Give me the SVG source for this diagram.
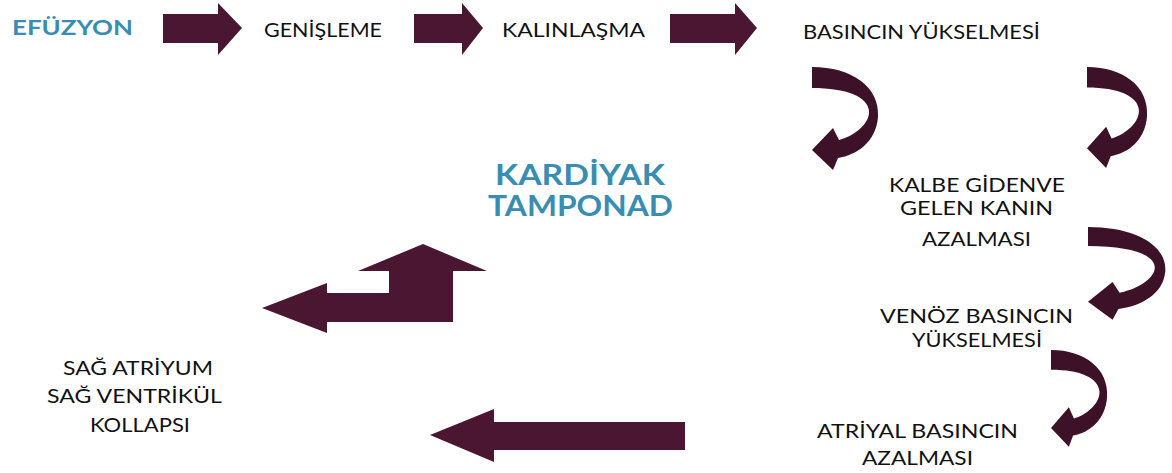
<svg xmlns="http://www.w3.org/2000/svg" width="1172" height="473" viewBox="0 0 1172 473">
<style>
.arr{fill:#4b1632}
.carr{fill:#3d1128}
.t{font-family:Lato,"Liberation Sans",sans-serif;font-size:20px;fill:#111;text-anchor:middle}
.b{font-family:Lato,"Liberation Sans",sans-serif;font-weight:bold;fill:#3a8db2;text-anchor:middle}
</style>
<defs>
<path id="curved" d="M0,0 C40,0 68,20 66,50 C64,75 45,88 26,91 L21,103 L0,83 L21,61 L27,73 C45,68 58,55 57,44 C56,30 35,21 0,21 Z"/>
</defs>
<rect width="1172" height="473" fill="#fff"/>
<g id="connectors">
<path class="arr" d="M163,14 L218,14 L218,3 L242,28 L218,55 L218,43 L163,43 Z"/>
<path class="arr" d="M414,14 L462,14 L462,3 L483,28 L462,55 L462,43 L414,43 Z"/>
<path class="arr" d="M670,14 L735,14 L735,3 L757,28 L735,55 L735,43 L670,43 Z"/>
<use href="#curved" class="carr" transform="translate(812,67)"/>
<use href="#curved" class="carr" transform="translate(1087,67) scale(0.91,0.98)"/>
<use href="#curved" class="carr" transform="translate(1088,227) scale(1.17,0.9)"/>
<use href="#curved" class="carr" transform="translate(1051,350) scale(0.85,0.94)"/>
<path class="arr" d="M262,308 L327,283 L327,293 L389,293 L389,271 L358,271 L423,244 L487,271 L453,271 L453,322 L327,322 L327,333 Z"/>
<path class="arr" d="M430,435 L494,409 L494,422 L685,422 L685,450 L494,450 L494,462 Z"/>
</g>
<g id="efuzyon"><text class="b" x="72.5" y="35" font-size="20" textLength="121" lengthAdjust="spacingAndGlyphs">EFÜZYON</text></g>
<g id="genisleme"><text class="t" x="323" y="37" textLength="118" lengthAdjust="spacingAndGlyphs">GENİŞLEME</text></g>
<g id="kalinlasma"><text class="t" x="573.5" y="37" textLength="143" lengthAdjust="spacingAndGlyphs">KALINLAŞMA</text></g>
<g id="basinc"><text class="t" x="921.5" y="39" textLength="237" lengthAdjust="spacingAndGlyphs">BASINCIN YÜKSELMESİ</text></g>
<g id="kalbe">
<text class="t" x="977" y="192" font-size="21" textLength="176" lengthAdjust="spacingAndGlyphs">KALBE GİDENVE</text>
<text class="t" x="976.5" y="215" font-size="21" textLength="153" lengthAdjust="spacingAndGlyphs">GELEN KANIN</text>
<text class="t" x="976.5" y="246" font-size="21" textLength="109" lengthAdjust="spacingAndGlyphs">AZALMASI</text>
</g>
<g id="venoz">
<text class="t" x="976.5" y="323" font-size="21" textLength="193" lengthAdjust="spacingAndGlyphs">VENÖZ BASINCIN</text>
<text class="t" x="977" y="347" font-size="21" textLength="130" lengthAdjust="spacingAndGlyphs">YÜKSELMESİ</text>
</g>
<g id="atriyal">
<text class="t" x="917.5" y="438" font-size="21" textLength="201" lengthAdjust="spacingAndGlyphs">ATRİYAL BASINCIN</text>
<text class="t" x="917.5" y="465" font-size="21" textLength="111" lengthAdjust="spacingAndGlyphs">AZALMASI</text>
</g>
<g id="kardiyak">
<text class="b" x="580" y="185" font-size="28" textLength="170" lengthAdjust="spacingAndGlyphs">KARDİYAK</text>
<text class="b" x="580.5" y="216" font-size="28" textLength="185" lengthAdjust="spacingAndGlyphs">TAMPONAD</text>
</g>
<g id="kollaps">
<text class="t" x="138" y="375" font-size="20.5" textLength="150" lengthAdjust="spacingAndGlyphs">SAĞ ATRİYUM</text>
<text class="t" x="134.5" y="403" font-size="20.5" textLength="175" lengthAdjust="spacingAndGlyphs">SAĞ VENTRİKÜL</text>
<text class="t" x="140" y="432" font-size="20.5" textLength="100" lengthAdjust="spacingAndGlyphs">KOLLAPSI</text>
</g>
</svg>
